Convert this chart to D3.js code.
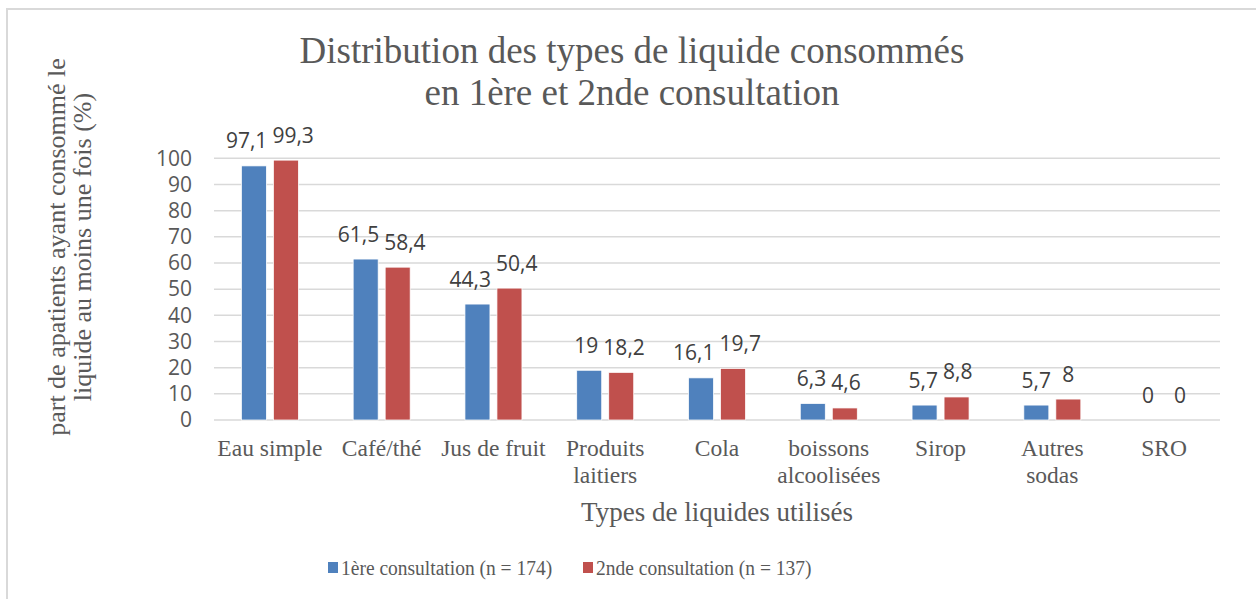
<!DOCTYPE html>
<html>
<head>
<meta charset="utf-8">
<script src="https://cdn.jsdelivr.net/npm/d3@7"></script>
<style>
    body { margin: 0; background: #fff; }
    svg { display: block; }
</style>
</head>
<body>
<div class="chart-vis"></div>
<script>
// data
var categories = ["Eau simple", "Café/thé", "Jus de fruit", "Produits laitiers", "Cola",
    "boissons alcoolisées", "Sirop", "Autres sodas", "SRO"];
var seriesNames = ["1ère consultation (n = 174)", "2nde consultation (n = 137)"];
var firstVisit = [97.1, 61.5, 44.3, 19, 16.1, 6.3, 5.7, 5.7, 0];
var secondVisit = [99.3, 58.4, 50.4, 18.2, 19.7, 4.6, 8.8, 8, 0];
var yTicks = [0, 10, 20, 30, 40, 50, 60, 70, 80, 90, 100];
var titleLines = ["Distribution des types de liquide consommés", "en 1ère et 2nde consultation"];
var yTitleLines = ["part de apatients ayant consommé le", "liquide au moins une fois (%)"];
var xTitle = "Types de liquides utilisés";

var colors = ["#4f81bd", "#c0504d"];
var serif = "'Liberation Serif', 'Times New Roman', serif";
var sans = "'Open Sans', 'Noto Sans', sans-serif";

function plotChart() {

    var width = 1256,
        height = 599;
    var plot = {left: 214, right: 1220, top: 158.3, bottom: 420};

    var svg = d3.select('.chart-vis').append("svg")
        .attr("width", width)
        .attr("height", height);

    // chart area border
    svg.append("rect")
        .attr("x", 7)
        .attr("y", 9)
        .attr("width", 1250)
        .attr("height", 620)
        .attr("fill", "#fff")
        .attr("stroke", "#d9d9d9")
        .attr("stroke-width", 2);

    //scales
    var x = d3.scaleBand()
        .domain(categories)
        .range([plot.left, plot.right]);

    var xSub = d3.scaleBand()
        .domain([0, 1])
        .range([-28.5, 28.5])
        .paddingInner(0.21875);

    var y = d3.scaleLinear()
        .domain([0, 100])
        .range([plot.bottom, plot.top]);

    // gridlines
    svg.append("g")
        .selectAll("line")
        .data(yTicks)
        .enter()
        .append("line")
        .attr("x1", plot.left)
        .attr("x2", plot.right)
        .attr("y1", function (d) { return y(d); })
        .attr("y2", function (d) { return y(d); })
        .attr("stroke", "#d9d9d9")
        .attr("stroke-width", 1.5);

    // y tick labels
    var yAxis = d3.axisLeft(y).tickValues(yTicks).tickSize(0).tickPadding(22);
    var yg = svg.append("g")
        .attr("transform", "translate(" + plot.left + ",0)")
        .call(yAxis);
    yg.select(".domain").remove();
    yg.selectAll("text")
        .attr("font-family", sans)
        .attr("font-size", 21)
        .attr("fill", "#595959");

    // bars
    var rows = categories.map(function (c, i) {
        return {cat: c, values: [firstVisit[i], secondVisit[i]]};
    });

    var groups = svg.append("g")
        .selectAll("g")
        .data(rows)
        .enter()
        .append("g")
        .attr("transform", function (d) {
            return "translate(" + (x(d.cat) + x.bandwidth() / 2) + ",0)";
        });

    groups.selectAll("rect")
        .data(function (d) {
            return d.values.map(function (v, k) { return {v: v, k: k}; });
        })
        .enter()
        .append("rect")
        .filter(function (d) { return d.v > 0; })
        .attr("x", function (d) { return xSub(d.k); })
        .attr("y", function (d) { return y(d.v); })
        .attr("width", xSub.bandwidth())
        .attr("height", function (d) { return y(0) - y(d.v); })
        .attr("fill", function (d) { return colors[d.k]; })
        .attr("stroke", "#fff")
        .attr("stroke-width", 0.75);

    // data labels
    groups.selectAll("text")
        .data(function (d) {
            return d.values.map(function (v, k) { return {v: v, k: k}; });
        })
        .enter()
        .append("text")
        .attr("x", function (d) { return xSub(d.k) + xSub.bandwidth() / 2; })
        .attr("y", function (d) { return y(d.v) - 17.5; })
        .attr("text-anchor", "middle")
        .attr("font-family", sans)
        .attr("font-size", 21)
        .attr("fill", "#404040")
        .text(function (d) { return String(d.v).replace(".", ","); });

    // push overlapping labels apart
    groups.each(function () {
        var t = d3.select(this).selectAll("text").nodes();
        var a = t[0], b = t[1];
        var wa = a.getComputedTextLength(), wb = b.getComputedTextLength();
        var xa = +a.getAttribute("x"), xb = +b.getAttribute("x");
        var gap = (xb - wb / 2) - (xa + wa / 2);
        var minGap = 5;
        if (gap < minGap) {
            var s = (minGap - gap) / 2;
            a.setAttribute("x", xa - s);
            b.setAttribute("x", xb + s);
        }
    });

    // category labels, wrapped to the band width
    var catText = svg.append("g")
        .selectAll("text")
        .data(categories)
        .enter()
        .append("text")
        .attr("x", function (d) { return x(d) + x.bandwidth() / 2; })
        .attr("y", 456)
        .attr("text-anchor", "middle")
        .attr("font-family", serif)
        .attr("font-size", 23.5)
        .attr("fill", "#595959");

    catText.each(function (d) {
        var el = d3.select(this);
        var words = d.split(" ");
        var lines = [], line = [];
        words.forEach(function (w) {
            line.push(w);
            el.text(line.join(" "));
            if (el.node().getComputedTextLength() > x.bandwidth() - 2 && line.length > 1) {
                line.pop();
                lines.push(line.join(" "));
                line = [w];
            }
        });
        lines.push(line.join(" "));
        el.text(null);
        lines.forEach(function (l, i) {
            el.append("tspan")
                .attr("x", x(d) + x.bandwidth() / 2)
                .attr("dy", i == 0 ? 0 : 27)
                .text(l);
        });
    });

    // title
    svg.append("text")
        .attr("x", 632)
        .attr("y", 63)
        .attr("text-anchor", "middle")
        .attr("font-family", serif)
        .attr("font-size", 37)
        .attr("fill", "#595959")
        .selectAll("tspan")
        .data(titleLines)
        .enter()
        .append("tspan")
        .attr("x", 632)
        .attr("dy", function (d, i) { return i == 0 ? 0 : 42; })
        .text(function (d) { return d; });

    // axis titles
    svg.append("text")
        .attr("x", (plot.left + plot.right) / 2)
        .attr("y", 521)
        .attr("text-anchor", "middle")
        .attr("font-family", serif)
        .attr("font-size", 27)
        .attr("fill", "#595959")
        .text(xTitle);

    svg.append("text")
        .attr("transform", "translate(65,247) rotate(-90)")
        .attr("text-anchor", "middle")
        .attr("font-family", serif)
        .attr("font-size", 26)
        .attr("fill", "#595959")
        .selectAll("tspan")
        .data(yTitleLines)
        .enter()
        .append("tspan")
        .attr("x", 0)
        .attr("dy", function (d, i) { return i == 0 ? 0 : 26; })
        .text(function (d) { return d; });

    // legend
    var legendX = [328, 583];
    var legend = svg.append("g")
        .selectAll("g")
        .data(seriesNames)
        .enter()
        .append("g")
        .attr("transform", function (d, i) { return "translate(" + legendX[i] + ",562)"; });

    legend.append("rect")
        .attr("width", 10)
        .attr("height", 11)
        .attr("fill", function (d, i) { return colors[i]; });

    // reference text is slightly taller than it is wide
    legend.append("text")
        .attr("transform", "translate(13,13) scale(1,1.12)")
        .attr("font-family", serif)
        .attr("font-size", 19.5)
        .attr("fill", "#595959")
        .text(function (d) { return d; });
}

plotChart();
</script>
</body>
</html>
